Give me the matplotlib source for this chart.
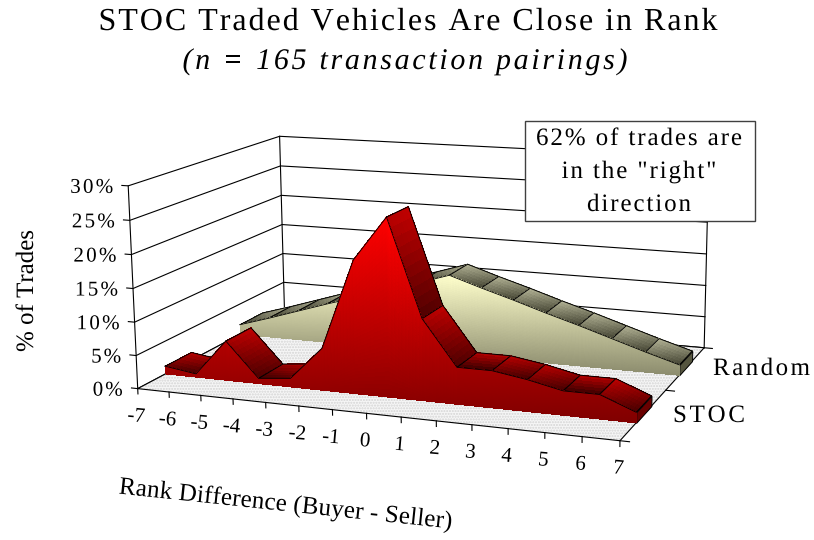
import numpy as np
import matplotlib
matplotlib.use("Agg")
import matplotlib.pyplot as plt
import matplotlib.patheffects as pe
from matplotlib.colors import LinearSegmentedColormap
from matplotlib.patches import Rectangle
from matplotlib.text import Text
from matplotlib.textpath import text_to_path
from matplotlib.transforms import Bbox, IdentityTransform
from mpl_toolkits.mplot3d import proj3d
from mpl_toolkits.mplot3d.art3d import Poly3DCollection

ranks = np.arange(-7, 8)
stoc = [1.2, 0.5, 6.0, 0.8, 1.3, 6.3, 19.7, 26.2, 12.0, 5.4, 5.4, 4.6, 3.5, 3.5, 1.5]
random_pairs = [1.6, 3.1, 4.7, 6.3, 7.8, 9.4, 10.9, 12.5, 10.9, 9.4, 7.8, 6.3, 4.7, 3.1, 1.6]
pct_ticks = [0, 5, 10, 15, 20, 25, 30]
series_names = ["STOC", "Random"]

W, H = 814, 540
plt.rcParams["font.family"] = ["Liberation Serif", "DejaVu Serif"]
fig = plt.figure(figsize=(W / 100, H / 100), dpi=100)
ax = fig.add_subplot(projection="3d", computed_zorder=False)
ax.set_xlim(-7, 7, view_margin=0)
ax.set_ylim(0, 2, view_margin=0)
ax.set_zlim(0, 30, view_margin=0)
ax.set_axis_off()
ax.patch.set_alpha(0)

# camera found by fitting the box corners of the reference
ax.view_init(elev=12.7999, azim=-68.6696, roll=0.5555)
ax.set_proj_type("persp", focal_length=np.exp(-0.5821))
ax.set_box_aspect((1, 0.6794, 0.4136))

# box corners in pixels, these only place the axes on the figure
world = np.array([[-7, 0, 0], [7, 0, 0], [7, 2, 0], [-7, 2, 0], [-7, 0, 30], [-7, 2, 30], [7, 2, 30]], float)
pix = np.array([[138, 389], [620, 441], [706, 347], [284, 311], [128, 185], [280, 136], [707, 159]], float)
pix[:, 1] = H - pix[:, 1]
nx, ny, _ = proj3d.proj_transform(world[:, 0], world[:, 1], world[:, 2], ax.get_proj())
um, vm = pix.mean(axis=0)
s = ((nx - nx.mean()) * (pix[:, 0] - um) + (ny - ny.mean()) * (pix[:, 1] - vm)).sum() / ((nx - nx.mean()) ** 2 + (ny - ny.mean()) ** 2).sum()
tx, ty = um - s * nx.mean(), vm - s * ny.mean()
x0, x1 = ax.viewLim.intervalx
y0, y1 = ax.viewLim.intervaly
side = s * (x1 - x0)
ax.set_position([(tx + s * x0) / W, (ty + s * y0) / H, side / W, side / H])


def to_px(x, y, z):
    a, b, _ = proj3d.proj_transform(x, y, z, ax.get_proj())
    return s * a + tx, H - (s * b + ty)


red_front = LinearSegmentedColormap.from_list("rf", ["#800000", "#FF0000"])
red_top = LinearSegmentedColormap.from_list("rt", ["#4A0000", "#C00000"])
tan_front = LinearSegmentedColormap.from_list("tf", ["#8C8C6E", "#FFFFCC"])
tan_top = LinearSegmentedColormap.from_list("tt", ["#4A4A38", "#B8B89A"])


def ribbon(vals, y_a, y_b, cm_front, cm_top, end_col, tilt, zo):
    vals = np.asarray(vals, float)
    for i in range(len(ranks) - 1):
        xx, yy = np.meshgrid(np.linspace(ranks[i], ranks[i + 1], 11), np.linspace(y_a, y_b, 7))
        zz = np.interp(xx, ranks, vals)
        h = zz + 4.8 * yy
        h = (h - h.min()) / max(np.ptp(h), 1e-6)
        ax.plot_surface(xx, yy, zz, facecolors=cm_top(h), rstride=1, cstride=1, shade=False,
                        linewidth=0, antialiased=False, zorder=zo)
        ax.plot([ranks[i], ranks[i + 1], ranks[i + 1], ranks[i], ranks[i]], [y_a, y_a, y_b, y_b, y_a],
                [vals[i], vals[i + 1], vals[i + 1], vals[i], vals[i]], color="black", lw=0.7, zorder=zo)
        zo += 1
    cap = [(ranks[-1], y_a, 0), (ranks[-1], y_b, 0), (ranks[-1], y_b, vals[-1]), (ranks[-1], y_a, vals[-1])]
    ax.add_collection3d(Poly3DCollection([cap], facecolor=end_col, edgecolor="black", linewidth=0.7, zorder=zo))
    xs = np.linspace(ranks[0], ranks[-1], 141)
    xx, tt = np.meshgrid(xs, np.linspace(0, 1, 41))
    zz = tt * np.interp(xx, ranks, vals)
    h = zz + tilt * (ranks[-1] - xx)
    h = h / h.max()
    ax.plot_surface(xx, np.full_like(xx, y_a), zz, facecolors=cm_front(h), rstride=1, cstride=1, shade=False,
                    linewidth=0, antialiased=False, zorder=zo + 1)
    ax.plot(ranks, np.full(len(ranks), y_a), vals, color="black", lw=0.6, zorder=zo + 2)
    return zo + 3


# walls and floor
for z in pct_ticks:
    ax.plot([-7.2, -7, -7, 7], [0, 0, 2, 2], [z, z, z, z], color="black", lw=0.8, zorder=1)
for x, y in [(-7, 0), (-7, 2), (7, 2)]:
    ax.plot([x, x], [y, y], [0, 30], color="black", lw=0.8, zorder=1)
floor = [(-7, 0, 0), (7, 0, 0), (7, 2, 0), (-7, 2, 0)]
ax.add_collection3d(Poly3DCollection([floor], facecolor="#F6F6F6", edgecolor="#D4D4D4", hatch="......", linewidth=0, zorder=2))
ax.plot([-7, 7, 7, -7, -7], [2, 2, 0, 0, 2], [0, 0, 0, 0, 0], color="black", lw=0.8, zorder=2)
for y in (0, 1, 2):
    ax.plot([7, 7.25], [y, y], [0, 0], color="black", lw=0.8, zorder=2)
for x in ranks:
    ax.plot([x, x], [0, 0], [0, -0.8], color="black", lw=0.8, zorder=2)

zo = ribbon(random_pairs, 4 / 3, 5 / 3, tan_front, tan_top, "#55553F", 0.3, 10)
zo = ribbon(stoc, 1 / 3, 2 / 3, red_front, red_top, "#6A0000", 0.49, zo)


def adv(t, fp):
    # advance width in pixels, char by char so there is no kerning, the bar keeps spaces counted
    bar = text_to_path.get_text_width_height_descent("|", fp, False)[0]
    return sum(text_to_path.get_text_width_height_descent(c + "|", fp, False)[0] - bar for c in t) * 100 / 72


class SpacedText(Text):
    # text with letter spacing: span is the wanted width of the first line in pixels
    def _glyphs(self):
        fp = self.get_fontproperties()
        ang = np.deg2rad(self.get_rotation())
        ax_, ay_ = self.get_transform().transform(self.get_position())
        out = []
        lines = self.get_text().split("\n")
        track = 0
        if self.span:
            track = (self.span - adv(lines[0], fp)) / max(len(lines[0]) - 1, 1)
        for j, line in enumerate(lines):
            total = adv(line, fp) + track * (len(line) - 1)
            for i, ch in enumerate(line):
                d = adv(line[:i], fp) + track * i - total / 2
                px = ax_ + d * np.cos(ang) + j * self.leading * np.sin(ang)
                py = ay_ + d * np.sin(ang) - j * self.leading * np.cos(ang)
                g = Text(px, py, ch, fontproperties=fp, color=self.get_color(), rotation=self.get_rotation(),
                         rotation_mode="anchor", ha="left", va="baseline", transform=IdentityTransform(),
                         path_effects=[pe.Normal()])
                g.set_figure(self.get_figure())
                out.append(g)
        return out

    def draw(self, renderer):
        for g in self._glyphs():
            g.draw(renderer)

    def get_window_extent(self, renderer=None, dpi=None):
        renderer = renderer or self.get_figure()._get_renderer()
        return Bbox.union([g.get_window_extent(renderer) for g in self._glyphs() if g.get_text().strip()])


def spaced(x, y, text, span, size, leading=0, **kw):
    t = fig.text(x / W, 1 - y / H, text, fontsize=size * 0.72, zorder=6, ha="center", va="baseline",
                 rotation_mode="anchor", **kw)
    t.__class__ = SpacedText
    t.span = span
    t.leading = leading
    return t


for x in ranks:
    px, py = to_px(x, 0, 0)
    spaced(px - 2, py + 33, str(x), None, 21, rotation=-5)
for z in pct_ticks:
    px, py = to_px(-7, 0, z)
    label = "%d%%" % z
    wide = 43 if z >= 10 else 30
    spaced(px - 15 - wide / 2, py + 7, label, wide, 21)

spaced(408, 30, "STOC Traded Vehicles Are Close in Rank", 619, 32)
spaced(405, 69, "(n = 165 transaction pairings)", 445, 30, style="italic")
fig.add_artist(Rectangle((525 / W, 1 - 221 / H), 230 / W, 100 / H, transform=fig.transFigure,
                         facecolor="white", edgecolor="#404040", lw=1, zorder=5))
spaced(639, 145, '62% of trades are\nin the "right"\ndirection', 206, 25, leading=33)
spaced(761.5, 375, series_names[1], 97, 25)
spaced(709, 422, series_names[0], 72, 25)
spaced(33, 291, "% of Trades", 122, 25, rotation=90)
spaced(285, 511, "Rank Difference (Buyer - Seller)", 335, 25, rotation=-6)

fig.savefig("out.png", dpi=100)
